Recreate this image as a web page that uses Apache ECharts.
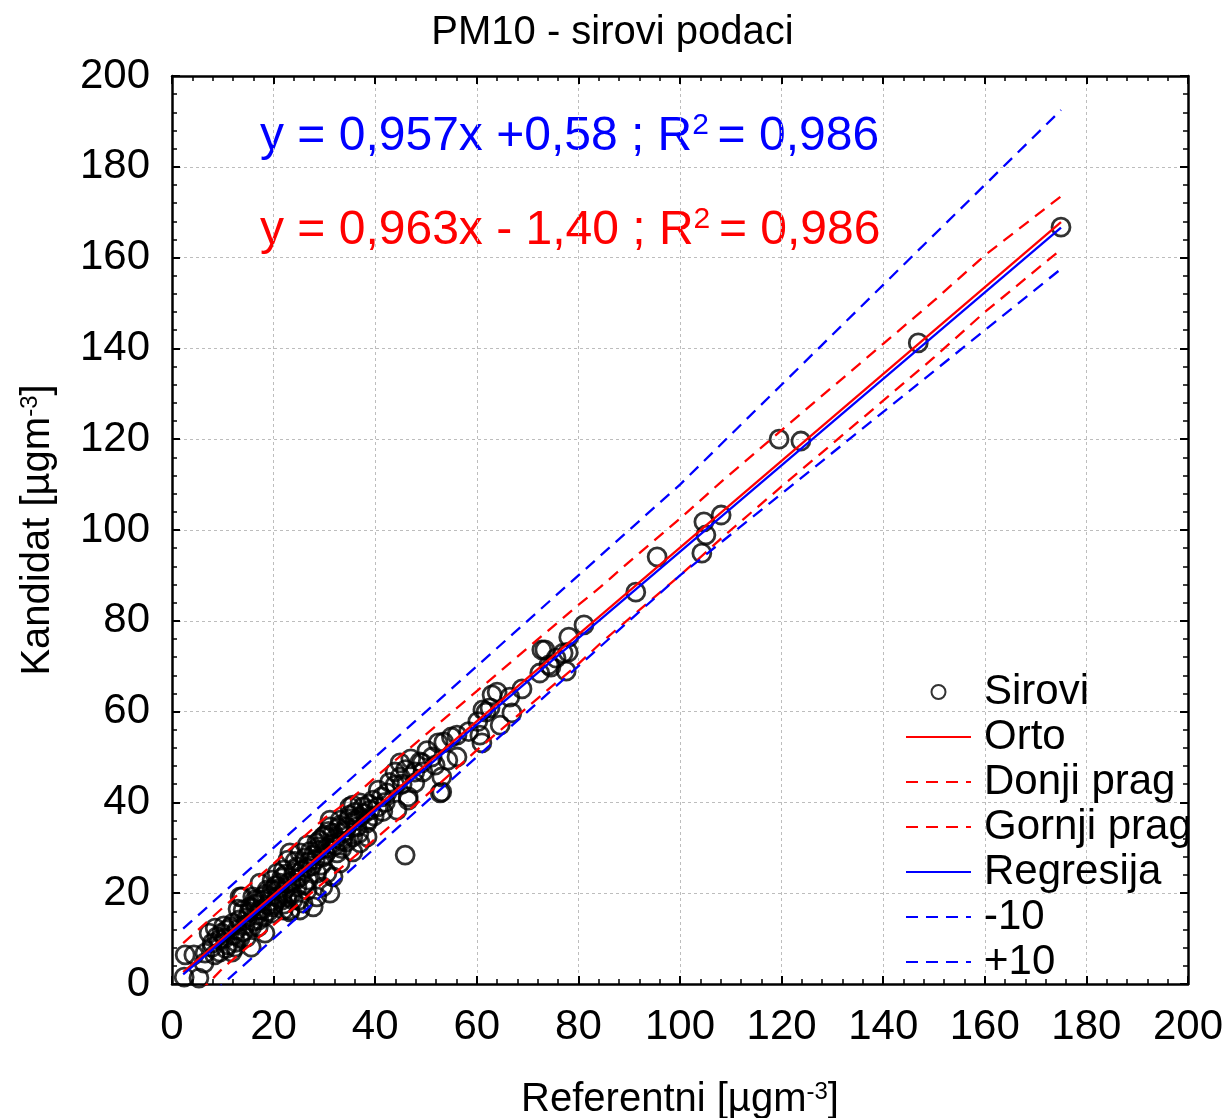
<!DOCTYPE html>
<html>
<head>
<meta charset="utf-8">
<script src="https://cdn.jsdelivr.net/npm/echarts@6/dist/echarts.min.js"></script>
<style>
  html, body { margin: 0; padding: 0; background: #fff; }
  #main { width: 1225px; height: 1118px; }
</style>
</head>
<body>
<div id="main"></div>
<script>
// PM10 - raw data, reference vs candidate
var sirovi = [
  [2.4, 1.5], [2.6, 6.4], [5.3, 1.3], [4.3, 6.4], [6.3, 4.6], [6.5, 6.8], [7.3, 11.2], [8.5, 12.3],
  [7.9, 9.0], [9.8, 11.2], [9.4, 7.0], [10.8, 11.9], [12.4, 8.1], [11.8, 7.0], [13.4, 10.1], [15.6, 8.1],
  [13.8, 19.2], [13.2, 14.1], [15.2, 15.9], [15.7, 12.6], [17.1, 14.1], [17.7, 16.3], [18.3, 11.2], [19.7, 15.6],
  [21.7, 18.5], [19.7, 20.7], [23.6, 20.0], [25.0, 18.5], [23.2, 15.9], [16.3, 18.5], [17.7, 19.2], [15.7, 16.7],
  [12.2, 10.8], [10.4, 10.1], [9.3, 9.7], [7.9, 8.1], [11.0, 8.6], [14.4, 13.0], [16.7, 15.2], [18.9, 17.4],
  [20.9, 18.9], [22.2, 20.7], [11.5, 12.5], [12.8, 12.0], [14.0, 11.5], [16.0, 13.8], [18.0, 14.8], [20.0, 17.5],
  [35.0, 39.0], [37.0, 39.9], [33.1, 35.0], [31.1, 36.1], [35.6, 29.1], [29.7, 32.4], [28.5, 31.1], [26.6, 30.6],
  [27.8, 28.4], [29.7, 28.0], [32.5, 28.9], [33.1, 26.7], [25.2, 28.9], [23.2, 28.9], [22.8, 27.3], [24.6, 25.8],
  [26.6, 25.6], [28.5, 24.4], [30.5, 24.4], [31.7, 23.6], [26.8, 22.9], [25.2, 23.6], [21.9, 25.1], [20.7, 24.4],
  [19.7, 22.9], [21.3, 22.2], [22.8, 22.2], [24.6, 21.4], [26.6, 20.7], [29.7, 21.4], [28.5, 19.2], [31.1, 20.0],
  [17.3, 22.2], [18.7, 20.7], [20.7, 19.2], [22.6, 19.2], [23.8, 18.5], [25.8, 17.8], [27.8, 17.0], [25.2, 16.3],
  [23.2, 16.3], [15.9, 19.2], [17.9, 18.5], [19.9, 17.0], [21.9, 16.3], [15.4, 17.0], [17.3, 16.3], [13.4, 19.2],
  [14.0, 16.3], [24.0, 24.5], [27.0, 27.0], [29.0, 29.5], [30.5, 30.0], [27.5, 26.0], [24.5, 23.0], [21.0, 21.0],
  [8.8, 10.4], [10.2, 12.8], [12.0, 13.4], [13.0, 16.5], [14.8, 14.6], [16.4, 17.6], [18.4, 19.8], [19.2, 18.2],
  [20.4, 21.6], [21.6, 23.4], [22.4, 24.2], [23.4, 22.6], [24.2, 27.0], [25.6, 25.0], [26.2, 27.8], [27.2, 29.2],
  [28.2, 27.4], [29.4, 26.2], [30.2, 28.6], [31.4, 30.8], [32.2, 32.0], [33.4, 29.8], [34.2, 33.8], [34.8, 36.4],
  [36.0, 37.8], [37.8, 37.6], [38.8, 39.6], [39.8, 37.0], [36.8, 33.2], [32.8, 34.4], [30.8, 33.6], [28.8, 30.2],
  [26.0, 22.0], [22.0, 17.6], [19.0, 16.0], [17.0, 12.6], [14.6, 10.2], [12.6, 9.2], [10.6, 7.8], [8.4, 6.4],
  [52.4, 53.1], [44.9, 48.7], [43.9, 46.7], [44.9, 45.6], [48.8, 48.9], [49.4, 46.7], [47.8, 44.3], [53.1, 42.3],
  [43.9, 43.8], [42.3, 42.1], [40.6, 42.7], [41.3, 41.2], [46.5, 40.5], [44.3, 38.3], [35.6, 39.4], [37.6, 39.0],
  [39.6, 40.5], [39.0, 38.3], [35.0, 37.2], [37.0, 36.8], [38.6, 36.1], [33.1, 36.1], [34.4, 34.6], [36.4, 34.6],
  [38.4, 35.5], [31.1, 34.6], [31.7, 33.3], [30.1, 32.8], [33.7, 33.3], [35.6, 32.4], [38.4, 32.4], [37.0, 31.1],
  [34.4, 31.3], [29.1, 31.7], [32.1, 30.6], [40.5, 39.0], [42.0, 40.0], [36.0, 36.0], [41.5, 38.0], [33.5, 31.5],
  [42.8, 44.4], [46.0, 47.2], [47.0, 49.6], [50.2, 51.4], [51.8, 48.2], [55.0, 54.4], [58.4, 55.6], [60.2, 57.8],
  [64.0, 64.3], [63.0, 63.7], [68.9, 65.0], [66.5, 63.2], [61.2, 60.4], [62.6, 60.8], [66.9, 59.7], [64.6, 57.0],
  [60.6, 54.8], [61.0, 53.1], [56.1, 54.8], [53.5, 53.3], [56.1, 50.0], [54.3, 49.3], [51.2, 50.0], [49.2, 48.7],
  [47.8, 46.7], [53.1, 45.6], [52.8, 42.1], [46.5, 41.2], [45.3, 44.0], [45.9, 28.4], [61.8, 59.9],
  [72.4, 68.5], [72.8, 73.6], [73.4, 73.6], [74.2, 70.3], [74.6, 69.8], [75.6, 71.8], [77.0, 72.9], [77.6, 68.9],
  [78.0, 73.1], [78.1, 76.4], [81.1, 79.1], [91.3, 86.3], [95.5, 94.1], [104.3, 94.9], [104.7, 101.8], [105.1, 98.9],
  [108.1, 103.3], [119.5, 120.0], [123.8, 119.6], [146.9, 141.2], [175.0, 166.7]
]
var orto = [[2.2, 2.6], [175, 167.8]]
var regresija = [[2.2, 2.1], [175, 166.6]]
var donjiPrag = [
  [2.2, -4.5], [7, 0], [10, 3.5], [20, 13], [30, 22.5], [39, 31], [50, 41.5], [60, 51.5], [70, 61],
  [80, 70.5], [84.3, 75], [90, 80.5], [100, 90], [110, 100], [122, 111.5], [130, 119], [140, 128.5],
  [150, 138], [160, 148], [175, 161.8]
]
var gornjiPrag = [
  [2.2, 9.0], [10, 16.8], [20, 26.5], [30, 36.5], [35, 40.5], [40, 45.5], [50, 55], [60, 64.5], [70, 74],
  [80, 83.5], [84.3, 87.4], [90, 93], [100, 102.5], [108.5, 111], [120, 122], [130, 131.5], [140, 141],
  [150, 150.5], [160, 160.5], [175, 173.5]
]
var minus10 = [[2.2, -7.8], [100, 90], [175, 157.5]]
var plus10 = [[2.2, 12.2], [100, 110], [175, 192.5]]

var font = 'Liberation Sans, Arial, sans-serif'
var supStyle = { fontSize: 24, verticalAlign: 'top', lineHeight: 40, fontFamily: font }

function frameAxis (pos, showLabel, name, gap) {
  return {
    type: 'value',
    position: pos,
    min: 0,
    max: 200,
    interval: 20,
    name: name || '',
    nameLocation: 'middle',
    nameGap: gap || 0,
    nameTextStyle: {
      color: '#000',
      fontSize: 40,
      fontFamily: font,
      rich: { sup: supStyle }
    },
    axisLine: { show: true, onZero: false, lineStyle: { color: '#000', width: 2.5 } },
    axisTick: { show: true, inside: true, length: 8, lineStyle: { color: '#000', width: 2 } },
    minorTick: { show: true, splitNumber: 5, length: 5, lineStyle: { color: '#000', width: 1.5 } },
    axisLabel: { show: showLabel, color: '#000', fontSize: 42, fontFamily: font, margin: 22 },
    splitLine: { show: showLabel, lineStyle: { color: '#bdbdbd', type: [3, 3], width: 1 } }
  }
}

function lineSeries (name, data, color, dashed) {
  return {
    name: name,
    type: 'line',
    data: data,
    symbol: 'none',
    z: 3,
    lineStyle: { color: color, width: 2.3, type: dashed ? [12, 8] : 'solid' },
    itemStyle: { color: color }
  }
}

function eqText (text, color, top) {
  return {
    type: 'text',
    left: 260,
    top: top,
    style: {
      text: text,
      fill: color,
      font: '48px ' + font,
      rich: { sup: { fontSize: 30, verticalAlign: 'top', lineHeight: 52, width: 12, fill: color } }
    }
  }
}

var noDot = { opacity: 0 }

var chart = echarts.init(document.getElementById('main'))
var option = {
  backgroundColor: '#ffffff',
  animation: false,
  title: {
    text: 'PM10 - sirovi podaci',
    left: 'center',
    top: 8,
    textStyle: { color: '#000', fontSize: 40, fontWeight: 'normal', fontFamily: font }
  },
  grid: { left: 172, right: 37, top: 76, bottom: 134, outerBoundsMode: 'none', containLabel: false },
  xAxis: [
    frameAxis('bottom', true, 'Referentni [µgm{sup|-3}]', 96),
    frameAxis('top', false)
  ],
  yAxis: [
    frameAxis('left', true, 'Kandidat [µgm{sup|-3}]', 114),
    frameAxis('right', false)
  ],
  legend: {
    orient: 'vertical',
    left: 900,
    top: 666,
    itemWidth: 65,
    itemHeight: 14,
    itemGap: 3,
    textStyle: { color: '#000', fontSize: 42, lineHeight: 42, fontFamily: font, padding: [0, 0, 0, 8] },
    data: [
      { name: 'Sirovi', icon: 'circle' },
      { name: 'Orto', itemStyle: noDot },
      { name: 'Donji prag', itemStyle: noDot },
      { name: 'Gornji prag', itemStyle: noDot },
      { name: 'Regresija', itemStyle: noDot },
      { name: '-10', itemStyle: noDot },
      { name: '+10', itemStyle: noDot }
    ]
  },
  graphic: [
    eqText('y = 0,957x +0,58 ; R{sup|2} = 0,986', '#0000ff', 111),
    eqText('y = 0,963x - 1,40 ; R{sup|2} = 0,986', '#ff0000', 205)
  ],
  series: [
    {
      name: 'Sirovi',
      type: 'scatter',
      data: sirovi,
      symbol: 'circle',
      symbolSize: 18,
      z: 2,
      itemStyle: { color: 'rgba(255,255,255,0)', borderColor: '#000', borderWidth: 2.8 }
    },
    lineSeries('Orto', orto, '#ff0000', false),
    lineSeries('Donji prag', donjiPrag, '#ff0000', true),
    lineSeries('Gornji prag', gornjiPrag, '#ff0000', true),
    lineSeries('Regresija', regresija, '#0000ff', false),
    lineSeries('-10', minus10, '#0000ff', true),
    lineSeries('+10', plus10, '#0000ff', true)
  ]
}
chart.setOption(option)
window.onresize = chart.resize
</script>
</body>
</html>
